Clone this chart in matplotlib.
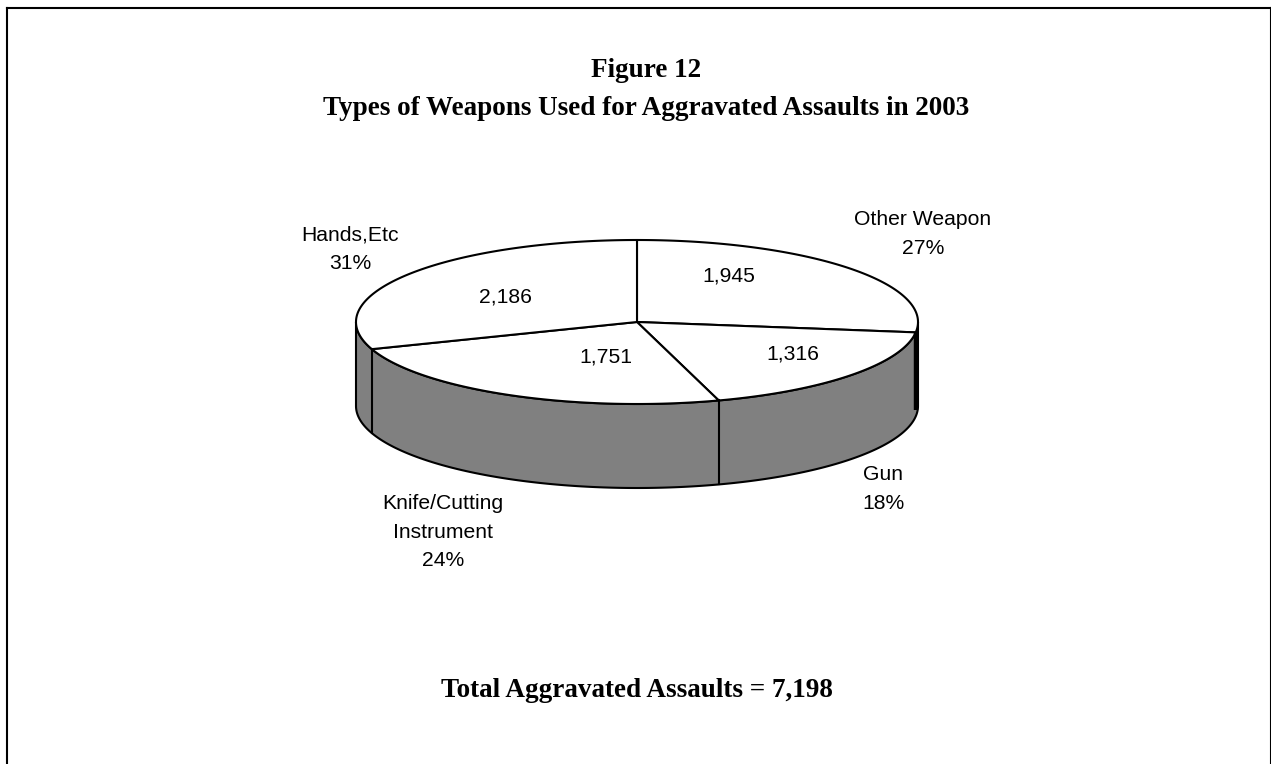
import numpy as np
import matplotlib
matplotlib.use("Agg")
import matplotlib.pyplot as plt
from matplotlib.patches import Polygon

# Slices, clockwise from 12 o'clock
categories = ["Other Weapon", "Gun", "Knife/Cutting\nInstrument", "Hands,Etc"]
counts = [1945, 1316, 1751, 2186]
shares = ["27%", "18%", "24%", "31%"]
total = 7198

W, H = 1271, 764
CX, CY = 637, 322     # centre of the top ellipse
RX, RY = 281, 82
DEPTH = 84

SANS = ["Liberation Sans", "DejaVu Sans"]
SERIF = ["Liberation Serif", "DejaVu Serif"]


def rim(t):
    """Point on the top ellipse, t in radians clockwise from 12 o'clock."""
    return CX + RX * np.sin(t), CY - RY * np.cos(t)


def main():
    fig = plt.figure(figsize=(W / 100, H / 100), dpi=100)
    ax = fig.add_axes([0, 0, 1, 1])
    ax.set_xlim(0, W)
    ax.set_ylim(H, 0)
    ax.axis("off")

    # Frame (bottom edge falls outside the picture)
    ax.plot([7, 7], [H + 5, 8], color="black", lw=1.5, solid_capstyle="projecting")
    ax.plot([7, W - 1], [8, 8], color="black", lw=1.5, solid_capstyle="projecting")
    ax.plot([W - 0.5, W - 0.5], [8, H + 5], color="black", lw=1.5)

    edges = np.cumsum([0] + counts) / total * 2 * np.pi

    # Side wall: the visible front half of the rim
    t = np.linspace(np.pi / 2, 3 * np.pi / 2, 200)
    x, y = rim(t)
    wall = np.column_stack([np.r_[x, x[::-1]], np.r_[y, (y + DEPTH)[::-1]]])
    ax.add_patch(Polygon(wall, closed=True, facecolor="#808080", edgecolor="black", lw=1.5))

    # Seams on the wall
    for e in edges[2:4]:
        sx, sy = rim(e)
        ax.plot([sx, sx], [sy, sy + DEPTH], color="black", lw=1.5)

    # The first boundary sits almost on the right edge, so it reads as a heavy line
    sx, sy = rim(edges[1])
    ax.plot([sx + 0.5, sx + 0.5], [sy, sy + DEPTH - 6], color="black", lw=3.2,
            solid_capstyle="butt")

    # Top face slices
    for a, b in zip(edges[:-1], edges[1:]):
        t = np.linspace(a, b, 150)
        x, y = rim(t)
        pts = np.column_stack([np.r_[CX, x], np.r_[CY, y]])
        ax.add_patch(Polygon(pts, closed=True, facecolor="white", edgecolor="black",
                             lw=1.5, joinstyle="round"))

    # Values on the slices
    value_pos = [(729, 276), (793, 354), (606, 357), (505, 297)]
    for n, (vx, vy) in zip(counts, value_pos):
        ax.text(vx, vy, f"{n:,}", ha="center", va="center", fontsize=15.2,
                family=SANS, color="black")

    # Outer labels
    label_pos = [(923, 234), (883, 489), (443, 532), (350, 249)]
    for name, share, (lx, ly) in zip(categories, shares, label_pos):
        ax.text(lx, ly, f"{name}\n{share}", ha="center", va="center", fontsize=15.2,
                family=SANS, color="black", linespacing=1.62)

    # Titles
    ax.text(646, 77, "Figure 12", ha="center", va="baseline", fontsize=19.5,
            fontweight="bold", family=SERIF)
    ax.text(646, 115, "Types of Weapons Used for Aggravated Assaults in 2003",
            ha="center", va="baseline", fontsize=19.5, fontweight="bold", family=SERIF)
    ax.text(637, 697, f"Total Aggravated Assaults = {total:,}", ha="center", va="baseline",
            fontsize=19.5, fontweight="bold", family=SERIF)

    fig.savefig("out.png", dpi=100)


if __name__ == "__main__":
    main()
